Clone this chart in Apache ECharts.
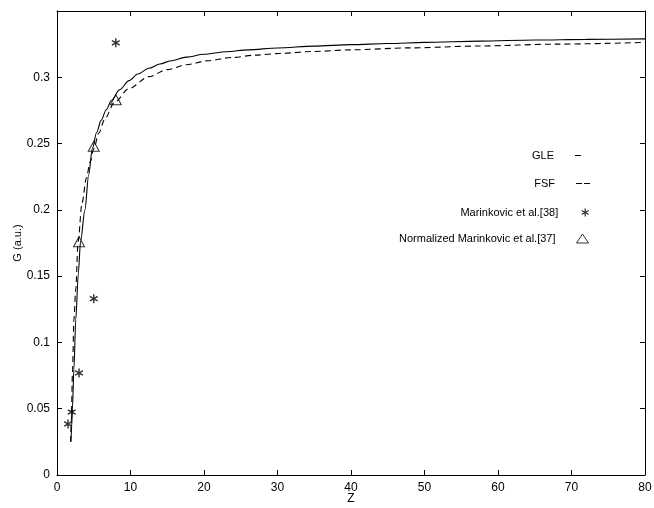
<!DOCTYPE html>
<html>
<head>
<meta charset="utf-8">
<script src="https://cdn.jsdelivr.net/npm/echarts@6/dist/echarts.min.js"></script>
<style>html,body{margin:0;padding:0;background:#fff}#c{width:654px;height:508px}</style>
</head>
<body>
<div id="c"></div>
<script>
// Data
var xTicks = [0, 10, 20, 30, 40, 50, 60, 70, 80];
var yTicks = [0, 0.05, 0.1, 0.15, 0.2, 0.25, 0.3];
var gleZ = [1.9, 2.0, 2.1, 2.3, 2.55, 2.9, 3.2, 3.8, 4.3, 4.8, 5.4, 6.0, 6.7, 7.4, 8.5, 9.8, 11, 12.5, 14, 15.5, 17.6, 20, 23, 26, 30, 35, 40, 45, 50, 57.6, 65, 72, 80];
var gleG = [0.025, 0.037, 0.05, 0.08, 0.117, 0.152, 0.176, 0.2, 0.226, 0.246, 0.2585, 0.2675, 0.2755, 0.2825, 0.2905, 0.2975, 0.3025, 0.3068, 0.31, 0.3125, 0.3152, 0.3174, 0.3193, 0.3207, 0.3221, 0.3235, 0.3246, 0.3255, 0.3263, 0.3273, 0.3281, 0.3286, 0.329];
var fsfZ = [1.85, 1.95, 2.1, 2.3, 2.55, 2.87, 3.4, 4.0, 4.5, 5.0, 5.7, 6.5, 7.8, 9.8, 12.5, 15, 17.6, 20.5, 23.9, 27, 30.3, 35, 40, 48, 57.6, 68, 80];
var fsfG = [0.025, 0.041, 0.077, 0.117, 0.14, 0.176, 0.205, 0.224, 0.236, 0.246, 0.258, 0.2685, 0.281, 0.2915, 0.3005, 0.3058, 0.3095, 0.3125, 0.315, 0.3167, 0.318, 0.3195, 0.3207, 0.3222, 0.3236, 0.325, 0.3263];
var mar38Z = [1.5, 2.0, 3.0, 5.0, 8.0];
var mar38G = [0.0385, 0.0475, 0.077, 0.133, 0.326];
var mar37Z = [3.0, 5.0, 8.0];
var mar37G = [0.176, 0.248, 0.283];
var names = ['GLE', 'FSF', 'Marinkovic et al.[38]', 'Normalized Marinkovic et al.[37]'];

function pairs(a, b) { return a.map(function (v, i) { return [v, b[i]]; }); }

// asterisk-like symbol outline (single contour)
function asteriskPath() {
  var R = 5, w = 0.8, r = w / Math.sin(Math.PI / 6), pts = [];
  for (var k = 0; k < 6; k++) {
    var t = k * Math.PI / 3;
    var ux = Math.sin(t), uy = -Math.cos(t), px = Math.cos(t), py = Math.sin(t);
    pts.push([R * ux - w * px, R * uy - w * py]);
    pts.push([R * ux + w * px, R * uy + w * py]);
    var t2 = t + Math.PI / 6;
    pts.push([r * Math.sin(t2), -r * Math.cos(t2)]);
  }
  return 'path://' + pts.map(function (p, i) { return (i ? 'L' : 'M') + p[0].toFixed(3) + ',' + p[1].toFixed(3); }).join(' ') + ' Z';
}
var starPath = asteriskPath();

var font = 'Liberation Sans, Arial, Helvetica, sans-serif';
var chart = echarts.init(document.getElementById('c'), null, {renderer: 'canvas'});

function leg(name, top, right, w, h, icon, extra) {
  var o = {
    data: [name], orient: 'horizontal', align: 'right', right: right, top: top,
    padding: 0, itemWidth: w, itemHeight: h, selectedMode: false,
    textStyle: {fontFamily: font, fontSize: 11, color: '#000', padding: [0, 16, 0, 0]}
  };
  if (icon) o.icon = icon;
  if (extra) for (var k in extra) o[k] = extra[k];
  return o;
}

chart.setOption({
  backgroundColor: '#fff',
  animation: false,
  grid: {left: 57, right: 9, top: 11, bottom: 33, containLabel: false, outerBoundsMode: 'none'},
  legend: [
    leg(names[0], 150, 73, 6, 1.3, 'path://M0,0 L6,0 L6,1 L0,1 Z'),
    leg(names[1], 178, 64, 14, 1.3, 'path://M0,0 L6,0 L6,1 L0,1 Z M8,0 L14,0 L14,1 L8,1 Z'),
    leg(names[2], 207, 65, 12, 8),
    leg(names[3], 233, 65, 12, 9, null, {itemStyle: {borderWidth: 1}})
  ],
  xAxis: [{
    type: 'value', min: xTicks[0], max: xTicks[xTicks.length - 1], interval: 10,
    name: 'Z', nameLocation: 'middle', nameGap: 18, nameMoveOverlap: false,
    nameTextStyle: {fontFamily: font, fontSize: 12, color: '#000'},
    axisLine: {show: true, onZero: false, lineStyle: {color: '#000', width: 1}},
    axisTick: {show: true, inside: true, length: 5, lineStyle: {color: '#000'}},
    axisLabel: {fontFamily: font, fontSize: 12, color: '#000', margin: 7},
    splitLine: {show: false}
  }, {
    type: 'value', position: 'top', min: xTicks[0], max: xTicks[xTicks.length - 1], interval: 10,
    axisLine: {show: true, onZero: false, lineStyle: {color: '#000', width: 1}},
    axisTick: {show: true, inside: true, length: 5, lineStyle: {color: '#000'}},
    axisLabel: {show: false}, splitLine: {show: false}
  }],
  yAxis: [{
    type: 'value', min: 0, max: 0.35, interval: 0.05,
    name: 'G (a.u.)', nameLocation: 'middle', nameGap: 34, nameRotate: 90, nameMoveOverlap: false,
    nameTextStyle: {fontFamily: font, fontSize: 11, color: '#000'},
    axisLine: {show: true, onZero: false, lineStyle: {color: '#000', width: 1}},
    axisTick: {show: true, inside: true, length: 5, lineStyle: {color: '#000'}},
    axisLabel: {fontFamily: font, fontSize: 12, color: '#000', margin: 7, showMaxLabel: false,
      formatter: function (v) { var r = Math.round(v * 100) / 100; return yTicks.indexOf(r) >= 0 ? String(r) : ''; }},
    splitLine: {show: false}
  }, {
    type: 'value', position: 'right', min: 0, max: 0.35, interval: 0.05,
    axisLine: {show: true, onZero: false, lineStyle: {color: '#000', width: 1}},
    axisTick: {show: true, inside: true, length: 5, lineStyle: {color: '#000'}},
    axisLabel: {show: false}, splitLine: {show: false}
  }],
  series: [{
    name: names[0], type: 'line', data: pairs(gleZ, gleG), smooth: 0.3, smoothMonotone: 'x',
    symbol: 'none', lineStyle: {color: '#000', width: 1.1}, itemStyle: {color: '#000'}
  }, {
    name: names[1], type: 'line', data: pairs(fsfZ, fsfG), smooth: 0.3, smoothMonotone: 'x',
    symbol: 'none', lineStyle: {color: '#000', width: 1.1, type: [6, 4]}, itemStyle: {color: '#000'}
  }, {
    name: names[2], type: 'scatter', data: pairs(mar38Z, mar38G),
    symbol: starPath, symbolSize: 9, symbolKeepAspect: true,
    itemStyle: {color: '#000'}
  }, {
    name: names[3], type: 'scatter', data: pairs(mar37Z, mar37G),
    symbol: 'triangle', symbolSize: [11, 10],
    itemStyle: {color: 'rgba(255,255,255,0)', borderColor: '#000', borderWidth: 1}
  }]
});
</script>
</body>
</html>
